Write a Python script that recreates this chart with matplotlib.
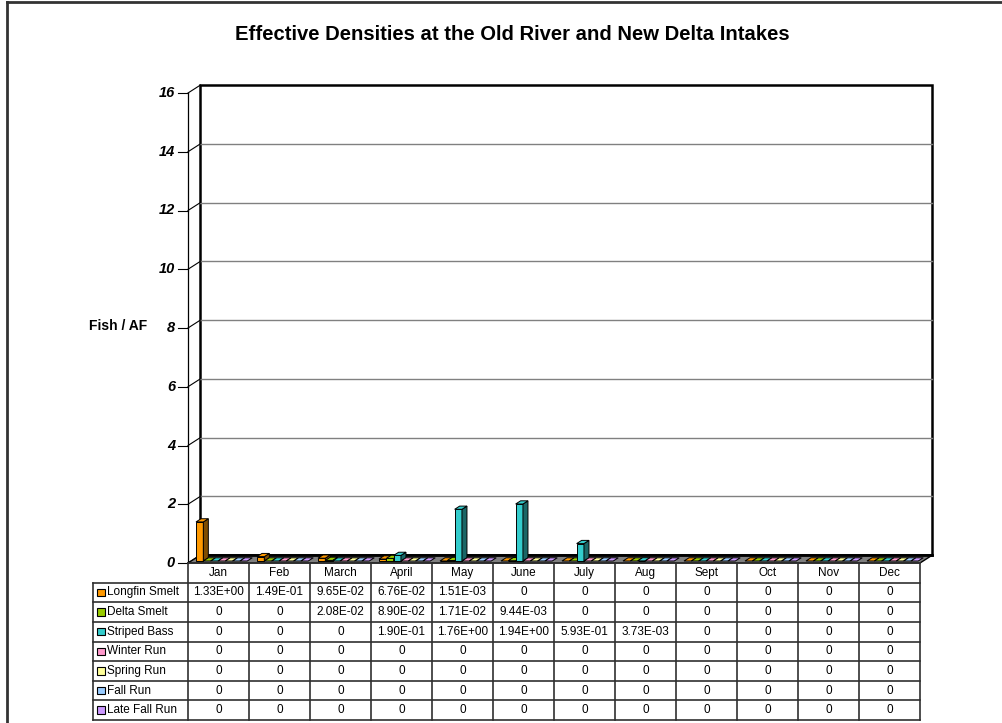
import matplotlib
matplotlib.use("Agg")
import matplotlib.pyplot as plt
from matplotlib.patches import Polygon, Rectangle
import matplotlib.colors as mcolors

plt.rcParams['font.family'] = ['Liberation Sans', 'DejaVu Sans']

# ---------------- data ----------------
months = ["Jan", "Feb", "March", "April", "May", "June", "July", "Aug", "Sept", "Oct", "Nov", "Dec"]
series_names = ["Longfin Smelt", "Delta Smelt", "Striped Bass", "Winter Run", "Spring Run", "Fall Run", "Late Fall Run"]
longfin_smelt = [1.33, 0.149, 0.0965, 0.0676, 0.00151, 0, 0, 0, 0, 0, 0, 0]
delta_smelt = [0, 0, 0.0208, 0.089, 0.0171, 0.00944, 0, 0, 0, 0, 0, 0]
striped_bass = [0, 0, 0, 0.19, 1.76, 1.94, 0.593, 0.00373, 0, 0, 0, 0]
winter_run = [0] * 12
spring_run = [0] * 12
fall_run = [0] * 12
late_fall_run = [0] * 12
yticks = [0, 2, 4, 6, 8, 10, 12, 14, 16]
title = "Effective Densities at the Old River and New Delta Intakes"
ylabel = "Fish / AF"

all_series = [longfin_smelt, delta_smelt, striped_bass, winter_run, spring_run, fall_run, late_fall_run]
colors = ["#FF9900", "#99CC00", "#33CCCC", "#FF99CC", "#FFFF99", "#99CCFF", "#CC99FF"]

W, H = 1003, 723
fig = plt.figure(figsize=(W / 100, H / 100), dpi=100)
fig.patch.set_facecolor("white")


def fbox(x0, y0, x1, y1):
    """pixel box (top-left origin) -> figure fraction [l, b, w, h]"""
    return [x0 / W, 1 - y1 / H, (x1 - x0) / W, (y1 - y0) / H]


# outer frame (top and left visible)
fig.add_artist(plt.Line2D([7 / W, 7 / W], [0, 1 - 2 / H], transform=fig.transFigure, color="#333333", lw=2))
fig.add_artist(plt.Line2D([7 / W, 1], [1 - 2 / H, 1 - 2 / H], transform=fig.transFigure, color="#333333", lw=2))

fig.text(512 / W, 1 - 34 / H, title, ha="center", va="center", fontsize=14.6, fontweight="bold")

# ---------------- chart axes (front plane) ----------------
FX0, FX1, FY0, FY1 = 188, 920, 93, 563
ax = fig.add_axes(fbox(FX0, FY0, FX1, FY1))
ax.set_xlim(0, 12)
ax.set_ylim(0, 16)
ax.axis("off")

pxx = 12 / (FX1 - FX0)   # data per pixel x
pxy = 16 / (FY1 - FY0)   # data per pixel y
DX, DY = 12.5 * pxx, 8 * pxy  # depth offset

# back wall
ax.add_patch(Rectangle((DX, DY), 12, 16, facecolor="white", edgecolor="black", lw=1.8, clip_on=False, zorder=1))
for v in yticks[1:-1]:
    ax.plot([DX, 12 + DX], [v + DY, v + DY], color="#808080", lw=1, clip_on=False, zorder=1.5)
# left wall diagonals and front axis
for v in yticks:
    ax.plot([0, DX], [v, v + DY], color="black", lw=0.8, clip_on=False, zorder=2)
    ax.plot([-10 * pxx, 0], [v, v], color="black", lw=0.8, clip_on=False, zorder=2)
    ax.text(-13 * pxx, v, str(v), ha="right", va="center", fontsize=10.5,
            fontweight="bold", fontstyle="italic")
ax.plot([0, 0], [0, 16], color="black", lw=0.9, clip_on=False, zorder=2)
fig.text(118 / W, 1 - 326 / H, ylabel, ha="center", va="center", fontsize=10, fontweight="bold")

# floor
ax.add_patch(Polygon([(0, 0), (12, 0), (12 + DX, DY), (DX, DY)], closed=True,
                     facecolor="#7f7f7f", edgecolor="black", lw=1, clip_on=False, zorder=2))
ax.plot([DX, 12 + DX], [DY, DY], color="black", lw=2, clip_on=False, zorder=2.1)

# bars (pseudo-3D)
gap = 0.08
bw = (1 - 2 * gap) / len(all_series)
sx, sy = 0.25 * DX, 0.25 * DY
bdx, bdy = 0.40 * DX, 0.40 * DY


def darker(c, f=0.5):
    r, g, b = mcolors.to_rgb(c)
    return (r * f, g * f, b * f)


for j, (vals, col) in enumerate(zip(all_series, colors)):
    for i, v in enumerate(vals):
        x0 = i + gap + j * bw + sx
        y0 = sy
        y1 = y0 + v
        z = 3 + 0.01 * j
        front = Rectangle((x0, y0), bw, v, facecolor=col, edgecolor="black", lw=0.7, zorder=z, clip_on=False)
        side = Polygon([(x0 + bw, y0), (x0 + bw + bdx, y0 + bdy), (x0 + bw + bdx, y1 + bdy), (x0 + bw, y1)],
                       closed=True, facecolor=darker(col), edgecolor="black", lw=0.7, zorder=z, clip_on=False)
        top = Polygon([(x0, y1), (x0 + bw, y1), (x0 + bw + bdx, y1 + bdy), (x0 + bdx, y1 + bdy)],
                      closed=True, facecolor=col, edgecolor="black", lw=0.7, zorder=z, clip_on=False)
        if v > 0:
            ax.add_patch(front)
            ax.add_patch(side)
        ax.add_patch(top)

# ---------------- data table ----------------
TX0, TX1, TY0, TY1 = 93, 920, 563, 720
tab = fig.add_axes(fbox(TX0, TY0, TX1, TY1))
labw = (FX0 - TX0) / ((FX1 - FX0) / 12)
nrows = len(all_series) + 1
tab.set_xlim(-labw, 12)
tab.set_ylim(nrows, 0)
tab.axis("off")
tpx = 1 / ((FX1 - FX0) / 12)
tpy = nrows / (TY1 - TY0)
lc = "#303030"

# horizontal lines
tab.plot([0, 12], [0, 0], color=lc, lw=1.2, clip_on=False)
for r in range(1, nrows + 1):
    tab.plot([-labw, 12], [r, r], color=lc, lw=1.2, clip_on=False)
# vertical lines
tab.plot([-labw, -labw], [1, nrows], color=lc, lw=1.2, clip_on=False)
for c in range(13):
    tab.plot([c, c], [0, nrows], color=lc, lw=1.2, clip_on=False)

for i, m in enumerate(months):
    tab.text(i + 0.5, 0.5, m, ha="center", va="center", fontsize=8.5)


def fmt(v):
    return "0" if v == 0 else "{:.2E}".format(v)


for r, (name, vals, col) in enumerate(zip(series_names, all_series, colors)):
    yc = r + 1.5
    tab.add_patch(Rectangle((-labw + 4 * tpx, yc - 3.8 * tpy), 7.5 * tpx, 7.5 * tpy,
                            facecolor=col, edgecolor="black", lw=0.8, clip_on=False))
    tab.text(-labw + 14 * tpx, yc, name, ha="left", va="center", fontsize=8.5)
    for i, v in enumerate(vals):
        tab.text(i + 0.5, yc, fmt(v), ha="center", va="center", fontsize=8.5)

fig.savefig("out.png", dpi=100)
